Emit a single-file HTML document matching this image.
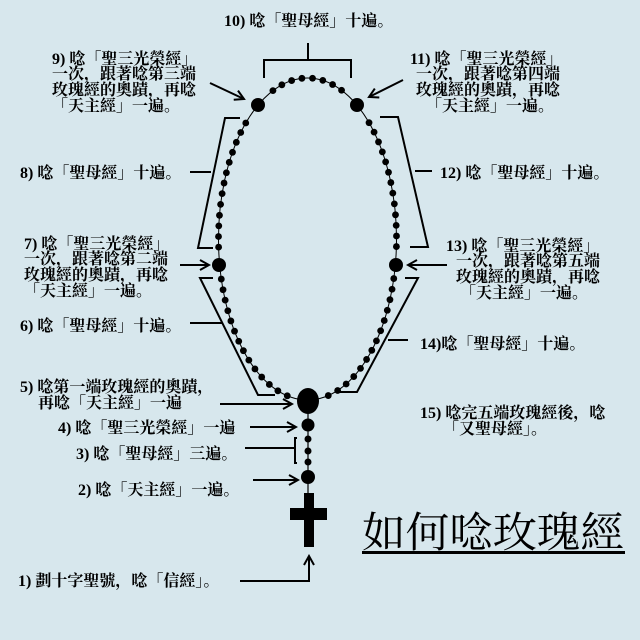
<!DOCTYPE html>
<html><head><meta charset="utf-8"><style>
html,body{margin:0;padding:0;background:#d7e7ed;}
svg{display:block}
text{font-family:"Liberation Serif","Noto Serif CJK SC","Noto Sans CJK TC",serif;font-size:16px;fill:#000;font-weight:bold}
</style></head><body>
<svg id="s" width="640" height="640" viewBox="0 0 640 640" xmlns="http://www.w3.org/2000/svg">
<defs><marker id="a" markerWidth="12" markerHeight="12" refX="10" refY="6" orient="auto" markerUnits="userSpaceOnUse"><path d="M1,1 L10,6 L1,11" fill="none" stroke="#000" stroke-width="2"/></marker></defs>
<rect width="640" height="640" fill="#d7e7ed"/>
<ellipse cx="307.5" cy="239" rx="89" ry="161" fill="none" stroke="#000" stroke-width="1"/>
<g id="beads" fill="#000"></g>
<g fill="#000">
<circle cx="258" cy="105" r="7"/><circle cx="357" cy="105" r="7"/>
<circle cx="219" cy="265" r="7"/><circle cx="396" cy="265" r="7"/>
<ellipse cx="308" cy="401" rx="11" ry="13"/>
<line x1="308" y1="400" x2="308" y2="495" stroke="#000" stroke-width="1.2"/>
<circle cx="308" cy="425" r="6.5"/>
<circle cx="308" cy="439" r="3.5"/><circle cx="308" cy="451" r="3.5"/><circle cx="308" cy="462" r="3.5"/>
<circle cx="308" cy="477" r="7"/>
<rect x="304" y="493" width="10" height="54"/>
<rect x="290" y="508" width="37" height="12"/>
</g>
<g fill="none" stroke="#000" stroke-width="2">
<path d="M264,78 V60 H351 V78 M308,43 V60"/>
<path d="M240,118 H225 L198,248 H213 M190,172 H211"/>
<path d="M380,117 H398 L428,247 H410 M415,171 H432"/>
<path d="M213,278 H200 L258,395 H275 M190,323 H222"/>
<path d="M405,278 H418 L357,392 H340 M388,340 H408"/>
<path d="M297,438 H295 V463 H297 M245,448 H295"/>
<path d="M210,83 L244,99" marker-end="url(#a)"/>
<path d="M403,80 L369,97" marker-end="url(#a)"/>
<path d="M180,265 L209,265" marker-end="url(#a)"/>
<path d="M447,265 L408,265" marker-end="url(#a)"/>
<path d="M220,404 L292,404" marker-end="url(#a)"/>
<path d="M250,427 L296,427" marker-end="url(#a)"/>
<path d="M253,480 L298,480" marker-end="url(#a)"/>
<path d="M240,581 H309 V556" marker-end="url(#a)"/>
</g>
<text x="224" y="26">10) 唸「聖母經」十遍。</text>
<text x="52" y="64">9) 唸「聖三光榮經」</text>
<text x="52" y="79">一次，跟著唸第三端</text>
<text x="52" y="95">玫瑰經的奧蹟，再唸</text>
<text x="52" y="111">「天主經」一遍。</text>
<text x="20" y="178">8) 唸「聖母經」十遍。</text>
<text x="24" y="249">7) 唸「聖三光榮經」</text>
<text x="24" y="264">一次，跟著唸第二端</text>
<text x="24" y="280">玫瑰經的奧蹟，再唸</text>
<text x="24" y="296">「天主經」一遍。</text>
<text x="20" y="331">6) 唸「聖母經」十遍。</text>
<text x="20" y="392">5) 唸第一端玫瑰經的奧蹟，</text>
<text x="38" y="408">再唸「天主經」一遍</text>
<text x="58" y="433">4) 唸「聖三光榮經」一遍</text>
<text x="76" y="459">3) 唸「聖母經」三遍。</text>
<text x="78" y="495">2) 唸「天主經」一遍。</text>
<text x="18" y="586">1) 劃十字聖號，唸「信經」。</text>
<text x="410" y="64">11) 唸「聖三光榮經」</text>
<text x="416" y="79">一次，跟著唸第四端</text>
<text x="416" y="95">玫瑰經的奧蹟，再唸</text>
<text x="426" y="111">「天主經」一遍。</text>
<text x="440" y="178">12) 唸「聖母經」十遍。</text>
<text x="446" y="251">13) 唸「聖三光榮經」</text>
<text x="456" y="266">一次，跟著唸第五端</text>
<text x="456" y="282">玫瑰經的奧蹟，再唸</text>
<text x="460" y="298">「天主經」一遍。</text>
<text x="420" y="349">14)唸「聖母經」十遍。</text>
<text x="420" y="418">15) 唸完五端玫瑰經後，唸</text>
<text x="443" y="434">「又聖母經」。</text>
<text x="362" y="547" textLength="262" lengthAdjust="spacingAndGlyphs" style="font-size:42px;font-weight:normal;font-family:'Noto Serif CJK SC','Noto Sans CJK TC',serif">如何唸玫瑰經</text>
<rect x="362" y="551" width="263" height="3" fill="#000"/>
</svg>
<script>
(function(){
var g=document.getElementById('beads'),cx=307.5,cy=239,rx=89,ry=161,N=2000,prev=null,acc=0;
var big=[[258,105],[357,105],[219,265],[396,265],[308,401]];
for(var i=0;i<=N;i++){var t=i/N*2*Math.PI;var x=cx+rx*Math.sin(t),y=cy+ry*Math.cos(t);
if(prev){acc+=Math.hypot(x-prev[0],y-prev[1]);}prev=[x,y];
if(acc>=10.5||i==0){acc=0;var ok=true;for(var k=0;k<5;k++){if(Math.hypot(x-big[k][0],y-big[k][1])<12)ok=false;}
if(ok){var c=document.createElementNS('http://www.w3.org/2000/svg','circle');c.setAttribute('cx',x);c.setAttribute('cy',y);c.setAttribute('r',3.4);g.appendChild(c);}}}
})();
</script>
</body></html>
